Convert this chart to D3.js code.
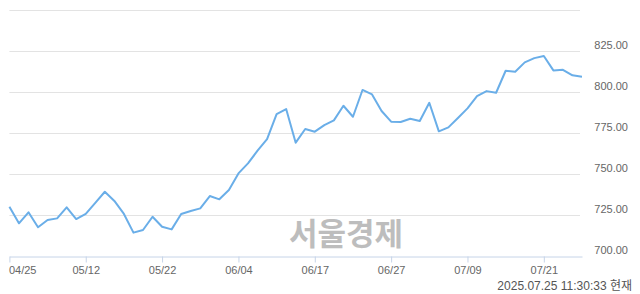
<!DOCTYPE html>
<meta charset="utf-8">
<head>
	<script src="https://d3js.org/d3.v7.min.js"></script>
</head>
<style>
	body { margin: 0; background: #fff; }
	svg { display: block; }
	.grid line { stroke: #e3e3e3; stroke-width: 1px; }
	.ylab { font-family: "Liberation Sans", sans-serif; font-size: 11px; fill: #666; }
	.xaxis text { font-family: "Liberation Sans", sans-serif; font-size: 11px; fill: #666; }
	.xaxis line, .xaxis path { stroke: #c6d4e8; }
</style>
<body>
<script>
	// trading days shown on the chart
	var dates = ["04/25","04/28","04/29","04/30","05/02","05/07","05/08","05/09",
		"05/12","05/13","05/14","05/15","05/16","05/19","05/20","05/21",
		"05/22","05/23","05/26","05/27","05/28","05/29","05/30","06/02",
		"06/04","06/05","06/09","06/10","06/11","06/12","06/13","06/16",
		"06/17","06/18","06/19","06/20","06/23","06/24","06/25","06/26",
		"06/27","06/30","07/01","07/02","07/03","07/04","07/07","07/08",
		"07/09","07/10","07/11","07/14","07/15","07/16","07/17","07/18",
		"07/21","07/22","07/23","07/24","07/25"];

	var values = [730.2, 720.1, 726.8, 717.7, 722.1, 723.1, 729.8, 722.7,
		725.8, 732.5, 739.3, 733.7, 725.8, 714.4, 716.0, 724.1,
		718.0, 716.4, 725.8, 727.6, 729.2, 736.7, 734.7, 740.4,
		750.5, 756.6, 764.3, 771.4, 786.6, 789.7, 769.2, 777.5,
		775.9, 779.9, 782.8, 791.7, 785.0, 801.3, 798.6, 788.5,
		782.0, 781.8, 783.8, 782.4, 793.5, 776.1, 778.5, 784.2,
		790.1, 797.6, 800.6, 799.6, 813.0, 812.4, 818.1, 820.7,
		822.0, 813.2, 813.6, 810.2, 809.4];

	var tickLabels = ["04/25","05/12","05/22","06/04","06/17","06/27","07/09","07/21"];
	var gridValues = [725, 750, 775, 800, 825, 850];
	var labelValues = [700, 725, 750, 775, 800, 825];
	var stamp = "2025.07.25 11:30:33 현재";
	var mark = "서울경제";

	var width = 640, height = 294;

	var svg = d3.select("body").append("svg")
		.attr("width", width)
		.attr("height", height);

	var x = d3.scalePoint().domain(dates).range([9.4, 582]);
	var y = d3.scaleLinear().domain([700, 850]).range([256.3, 10]);

	svg.append("g")
		.attr("class", "grid")
		.selectAll("line")
		.data(gridValues)
	 .enter().append("line")
		.attr("x1", 9.4)
		.attr("x2", 580)
		.attr("y1", function(d) { return Math.round(y(d)) + 0.5; })
		.attr("y2", function(d) { return Math.round(y(d)) + 0.5; });

	svg.selectAll(".ylab")
		.data(labelValues)
	 .enter().append("text")
		.attr("class", "ylab")
		.attr("x", 628)
		.attr("y", function(d) { return y(d) - 2; })
		.attr("text-anchor", "end")
		.text(function(d) { return d.toFixed(2); });

	// watermark
	svg.append("text")
		.attr("x", 346)
		.attr("y", 245)
		.attr("text-anchor", "middle")
		.attr("font-family", "'Noto Sans CJK KR', sans-serif")
		.attr("font-weight", "bold")
		.attr("font-size", 31)
		.attr("fill", "#bdbdbd")
		.text(mark);

	var xAxis = svg.append("g")
		.attr("class", "xaxis")
		.attr("transform", "translate(0," + (Math.round(y(700)) + 0.5) + ")")
		.call(d3.axisBottom(x).tickValues(tickLabels).tickSize(6).tickSizeOuter(0).tickPadding(4));

	xAxis.selectAll(".tick text")
		.attr("text-anchor", function(d, i) { return i === 0 ? "start" : "middle"; })
		.attr("dx", function(d, i) { return i === 0 ? -1 : 0; });

	svg.append("path")
		.datum(values)
		.attr("fill", "none")
		.attr("stroke", "#6aaee8")
		.attr("stroke-width", 2)
		.attr("stroke-linejoin", "round")
		.attr("d", d3.line()
			.x(function(d, i) { return x(dates[i]); })
			.y(function(d) { return y(d); }));

	svg.append("text")
		.attr("x", 632)
		.attr("y", 290)
		.attr("text-anchor", "end")
		.attr("font-family", "'Liberation Sans', 'Noto Sans CJK KR', sans-serif")
		.attr("font-size", 12)
		.attr("fill", "#555")
		.text(stamp);
</script>
</body>
